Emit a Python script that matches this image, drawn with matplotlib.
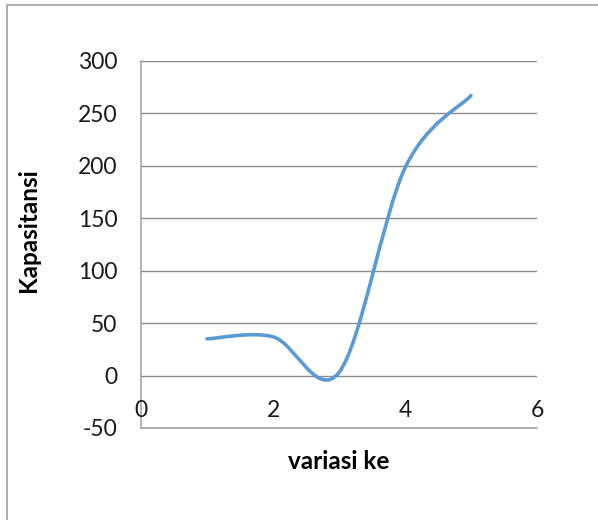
import matplotlib.pyplot as plt
from matplotlib.path import Path
from matplotlib.patches import PathPatch, Rectangle

# Series values
variasi = [1, 2, 3, 4, 5]
kapasitansi = [35, 37, 3, 198, 267]

x_ticks = [0, 2, 4, 6]
y_ticks = [-50, 0, 50, 100, 150, 200, 250, 300]

plt.rcParams['font.family'] = ['Lato', 'DejaVu Sans']
plt.rcParams['axes.unicode_minus'] = False

fig = plt.figure(figsize=(5.98, 5.20), dpi=100)
ax = fig.add_axes([141 / 598, 1 - 428 / 520, 396 / 598, 367 / 520])

# Smooth line: cubic Bezier segments through every point
pts = list(zip(variasi, kapasitansi))
verts = [pts[0]]
codes = [Path.MOVETO]
n = len(pts)
for i in range(n - 1):
    p_prev = pts[max(i - 1, 0)]
    p0 = pts[i]
    p1 = pts[i + 1]
    p_next = pts[min(i + 2, n - 1)]
    c1 = (p0[0] + (p1[0] - p_prev[0]) / 6, p0[1] + (p1[1] - p_prev[1]) / 6)
    c2 = (p1[0] - (p_next[0] - p0[0]) / 6, p1[1] - (p_next[1] - p0[1]) / 6)
    verts += [c1, c2, p1]
    codes += [Path.CURVE4] * 3
ax.add_patch(PathPatch(Path(verts, codes), facecolor='none', edgecolor='#5B9BD5',
                       linewidth=2.6, capstyle='round', zorder=3))

ax.set_xlim(0, 6)
ax.set_ylim(-50, 300)
ax.set_yticks(y_ticks)
ax.set_xticks(x_ticks)
ax.set_xticklabels([])
ax.yaxis.grid(True, color='#8c8c8c', linewidth=1.0)
ax.set_axisbelow(True)

for side in ['top', 'right']:
    ax.spines[side].set_visible(False)
for side in ['left', 'bottom']:
    ax.spines[side].set_color('#a6a6a6')
    ax.spines[side].set_linewidth(1.2)
ax.tick_params(axis='both', length=0, labelsize=16.5, colors='#1a1a1a')
ax.tick_params(axis='y', pad=17)

# x labels sit just above the bottom axis line
for t in x_ticks:
    ax.text(t, -33, str(t), ha='center', va='center', fontsize=16.5, color='#1a1a1a')

ax.set_xlabel('variasi ke', fontsize=17.5, fontweight='bold', labelpad=12)
ax.set_ylabel('Kapasitansi', fontsize=17.5, fontweight='bold')
ax.yaxis.set_label_coords(-0.255, 0.54)

# Chart area border
fig.patches.append(Rectangle((7 / 598, -0.1), 1.2, 1.1 - 5 / 520, transform=fig.transFigure,
                             facecolor='none', edgecolor='#a0a0a0', linewidth=1.2))

fig.savefig('out.png', dpi=100)
